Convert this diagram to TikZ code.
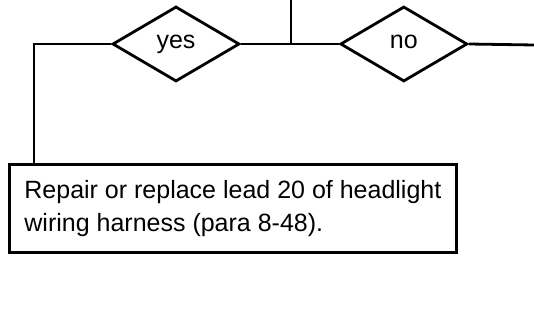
\documentclass[tikz,border=0pt]{standalone}
\usepackage{fontspec}
\setmainfont{Liberation Sans}
\usepackage{tikz}
\usetikzlibrary{positioning}
\usetikzlibrary{shapes.geometric}

\begin{document}
\begin{tikzpicture}[x=1pt, y=-1pt, line width=2.8pt,
    decision/.style={diamond, draw, inner sep=0pt, minimum width=127pt, minimum height=75pt, text height=10pt, text depth=0pt, font=\fontsize{25}{30}\selectfont},
    action/.style={rectangle, draw, inner sep=0pt, minimum width=447pt, minimum height=88pt, align=left, font=\fontsize{25}{33}\selectfont}]

    \useasboundingbox (0,0) rectangle (534,328);

    \node[decision] (yes) at (176,44) {yes};
    \node[decision, right=98pt of yes] (no) {no};

    \coordinate (top) at (291,0);
    \coordinate (join) at (291,44);
    \coordinate (exit) at (534,45);
    \coordinate (bend) at (34,44);

    \node[action, anchor=north west] (fix) at (8,163) {Repair or replace lead 20 of headlight\\wiring harness (para 8-48).};

    \draw (yes.east) -- (no.west);
    \draw (top) -- (join);
    \draw (no.east) -- (exit);
    \draw (yes.west) -- (bend) -- (bend |- fix.north);

\end{tikzpicture}
\end{document}
